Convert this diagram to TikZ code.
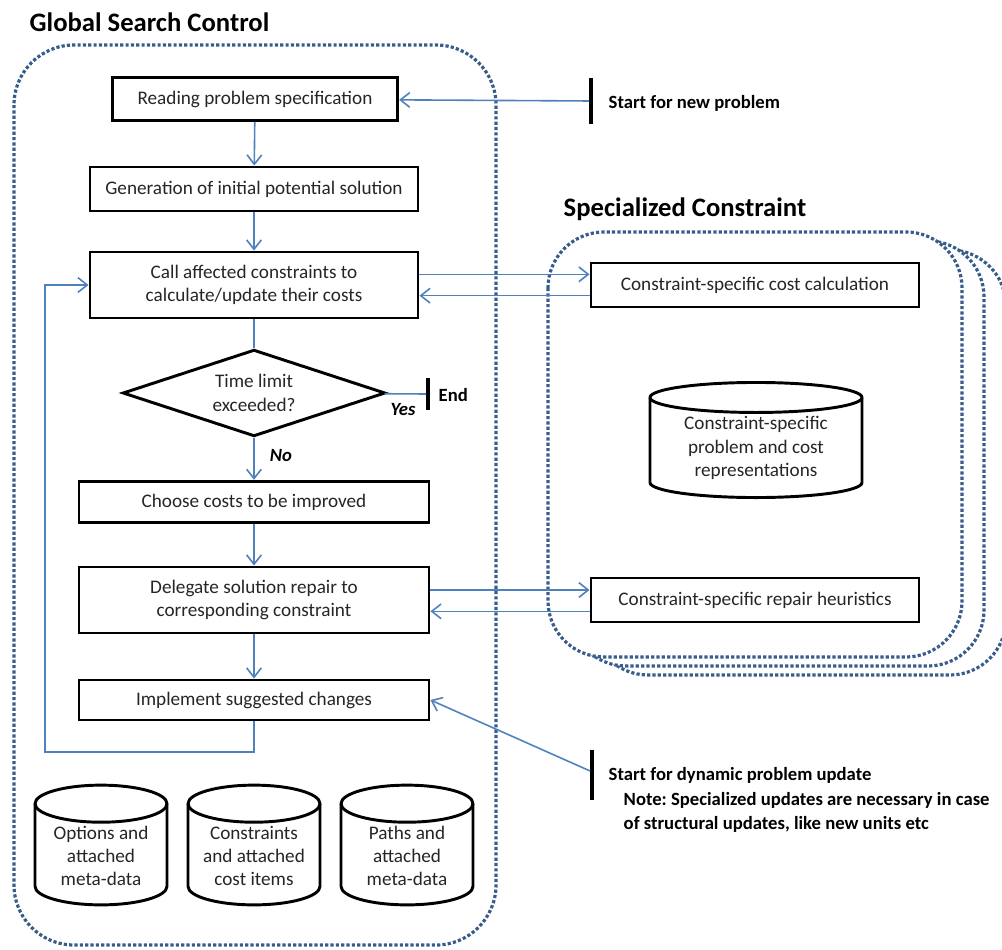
\documentclass[tikz,border=0pt]{standalone}
\usepackage{fontspec}
\setmainfont{Carlito}
\frenchspacing
\usetikzlibrary{arrows.meta, positioning, shapes.geometric}
\definecolor{frameblue}{HTML}{385D8A}
\definecolor{lineblue}{HTML}{4F81BD}
\definecolor{txtgray}{HTML}{262626}
\newcommand{\boxfont}{\fontsize{14.4}{17.5}\selectfont}

\begin{document}
\begin{tikzpicture}
[x=0.75pt, y=-0.75pt,
 box/.style={draw=black, line width=2.2pt, fill=white, minimum width=246pt, minimum height=33pt, align=center, inner sep=2pt, text=txtgray, font=\boxfont},
 test/.style={diamond, draw=black, line width=2.2pt, fill=white, minimum width=197pt, minimum height=65pt, inner sep=0pt, aspect=3, align=center, text=txtgray, font=\boxfont},
 storetext/.style={align=center, text=txtgray, font=\boxfont},
 pics/drum/.style n args={3}{code={
  \draw[line width=2.2pt, fill=white] (-#1,-#2) -- (-#1,#2)
   arc[start angle=180, end angle=0, x radius=#1, y radius=#3] -- (#1,-#2)
   arc[start angle=0, end angle=-180, x radius=#1, y radius=#3];
  \draw[line width=2.2pt] (-#1,#2) arc[start angle=180, end angle=360, x radius=#1, y radius=#3];}},
 frame/.style={draw=frameblue, line width=2.4pt, dash pattern=on 2.4pt off 1.6pt, rounded corners=45pt},
 bar/.style={fill=black, minimum width=2.4pt, inner sep=0pt},
 conn/.style={draw=lineblue, line width=1.2pt},
 ->/.style={conn, arrows={-{Straight Barb[length=7pt, width=11pt]}}},
 title/.style={font=\bfseries\fontsize{20}{24}\selectfont, anchor=west},
 note/.style={font=\bfseries\fontsize{14}{17.5}\selectfont, anchor=west}]
\useasboundingbox (0,0) rectangle (1002,949);
\draw[frame] (14,45) rectangle (496,945);
\node[title] (gtitle) at (25,22) {Global Search Control};
\draw[frame, fill=white, rounded corners=42pt] (592,250) rectangle (1006,675);
\draw[frame, fill=white, rounded corners=42pt] (570,241) rectangle (984,666);
\draw[frame, fill=white, rounded corners=42pt] (548,232) rectangle (962,657);
\node[title] (stitle) at (559,209) {Specialized Constraint};

\node[box, minimum width=214pt, minimum height=32pt] (read) at (255,99) {Reading problem specification};
\node[box] (init) at (254,189) {Generation of initial potential solution};
\node[box, minimum height=49.5pt] (call) at (254,285) {Call affected constraints to\\calculate/update their costs};
\node[test] (time) at (254,393) {Time limit\\exceeded?};
\node[box, minimum width=262.5pt, minimum height=31pt] (choose) at (254,502) {Choose costs to be improved};
\node[box, minimum width=262.5pt, minimum height=49.5pt] (repair) at (254,600) {Delegate solution repair to\\corresponding constraint};
\node[box, minimum width=262.5pt, minimum height=30pt] (apply) at (254,700) {Implement suggested changes};

\pic at (101,845) {drum={49.5pt}{31pt}{13.9pt}};
\node[storetext] (opts) at (101,856) {Options and\\attached\\meta-data};
\pic at (254,845) {drum={49.5pt}{31pt}{13.9pt}};
\node[storetext] (cons) at (254,856) {Constraints\\and attached\\cost items};
\pic at (407,845) {drum={49.5pt}{31pt}{13.9pt}};
\node[storetext] (paths) at (407,856) {Paths and\\attached\\meta-data};

\node[box] (cost) at (755,285) {Constraint-specific cost calculation};
\pic at (756,440) {drum={79.5pt}{31.9pt}{11.25pt}};
\node[storetext] (repr) at (756,448) {Constraint-specific\\problem and cost\\representations};
\node[box] (heur) at (755,600) {Constraint-specific repair heuristics};

\node[bar, minimum height=35pt] (newbar) at (591,101) {};
\node[note] at (604,103) {Start for new problem};
\node[bar, minimum height=24pt] (endbar) at (428,394) {};
\node[note] at (434,395) {End};
\node[bar, minimum height=37pt] (dynbar) at (592,775) {};
\node[note] at (604,775) {Start for dynamic problem update};
\node[note, anchor=north west, align=left] at (619,788) {Note: Specialized updates are necessary in case\\of structural updates, like new units etc};
\node[font=\bfseries\itshape\fontsize{14}{16}\selectfont] at (403,410) {Yes};
\node[font=\bfseries\itshape\fontsize{14}{16}\selectfont] at (281,456) {No};

\coordinate (loop) at (45,752);
\draw[->] (newbar) -- (read);
\draw[->] (read) -- (init);
\draw[->] (init) -- (call);
\draw[conn] (call) -- (time);
\draw[conn] (time) -- (endbar);
\draw[->] (time) -- (choose);
\draw[->] (choose) -- (repair);
\draw[->] (repair) -- (apply);
\draw[->] (apply.south) |- (loop) |- (call.west);
\draw[->] ([yshift=8pt]call.east) -- ([yshift=8pt]cost.west);
\draw[->] ([yshift=-8pt]cost.west) -- ([yshift=-8pt]call.east);
\draw[->] ([yshift=7.5pt]repair.east) -- ([yshift=7.5pt]heur.west);
\draw[->] ([yshift=-8.5pt]heur.west) -- ([yshift=-8.5pt]repair.east);
\draw[->] ([yshift=3pt]dynbar.west) -- (apply.east);
\end{tikzpicture}
\end{document}
